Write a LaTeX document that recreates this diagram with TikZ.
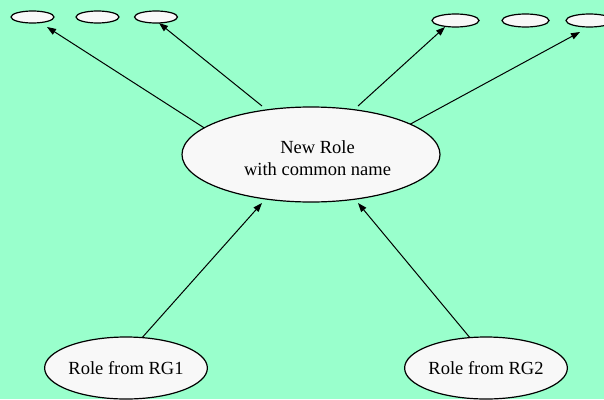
\documentclass[tikz,border=0pt]{standalone}
\usepackage{fontspec}
\setmainfont{Liberation Serif}
\usetikzlibrary{arrows.meta,shapes.geometric}
\definecolor{mint}{RGB}{153,255,204}
\definecolor{paper}{RGB}{248,248,248}
\begin{document}
\begin{tikzpicture}[x=1pt,y=-1pt,
  role/.style={ellipse,draw,line width=1.2pt,fill=paper,inner sep=0pt,outer sep=0pt,
    align=center,font=\fontsize{18.5}{22}\selectfont},
  stub/.style={role,minimum width=43pt,minimum height=12pt},
  stubwide/.style={role,minimum width=47pt,minimum height=13pt},
  caption/.style={align=center,inner sep=0pt,font=\fontsize{18.5}{22}\selectfont},
  link/.style={line width=1pt,-{Triangle[length=9pt,width=6.5pt]}}]
\fill[mint] (0,0) rectangle (604,399);
\useasboundingbox (0,0) rectangle (604,399);

% small role ellipses along the top
\node[stub] (e1) at (32.5,17) {};
\node[stub] (e2) at (97.5,17) {};
\node[stub] (e3) at (156,17) {};
\node[stubwide] (e4) at (455.5,20.5) {};
\node[stubwide] (e5) at (525.5,20.5) {};
\node[stubwide] (e6) at (589.5,20.5) {};

% merged role (text sits a little right of and below the centre) and its two sources
\node[role,minimum width=258pt,minimum height=95pt] (main) at (311,154.5) {};
\node[caption] (maintext) at (317.5,158.5) {New Role\\with common name};
\node[role,minimum width=160pt,minimum height=62pt] (rg1) at (126,368) {Role from RG1};
\node[role,minimum width=160pt,minimum height=62pt] (rg2) at (486,368) {Role from RG2};

% arrow ends that stop short of the ellipses
\coordinate (h1) at (47,27);
\coordinate (s2) at (262,106);
\coordinate (h2) at (159,23);
\coordinate (s3) at (358,106);
\coordinate (h3) at (445,27);
\coordinate (h4) at (580,32);
\coordinate (h5) at (262,203);
\coordinate (h6) at (358,203);

\draw[link] (main.166) -- (h1);
\draw[link] (s2) -- (h2);
\draw[link] (s3) -- (h3);
\draw[link] (main.17) -- (h4);
\draw[link] (rg1.62) -- (h5);
\draw[link] (rg2.118) -- (h6);
\end{tikzpicture}
\end{document}
